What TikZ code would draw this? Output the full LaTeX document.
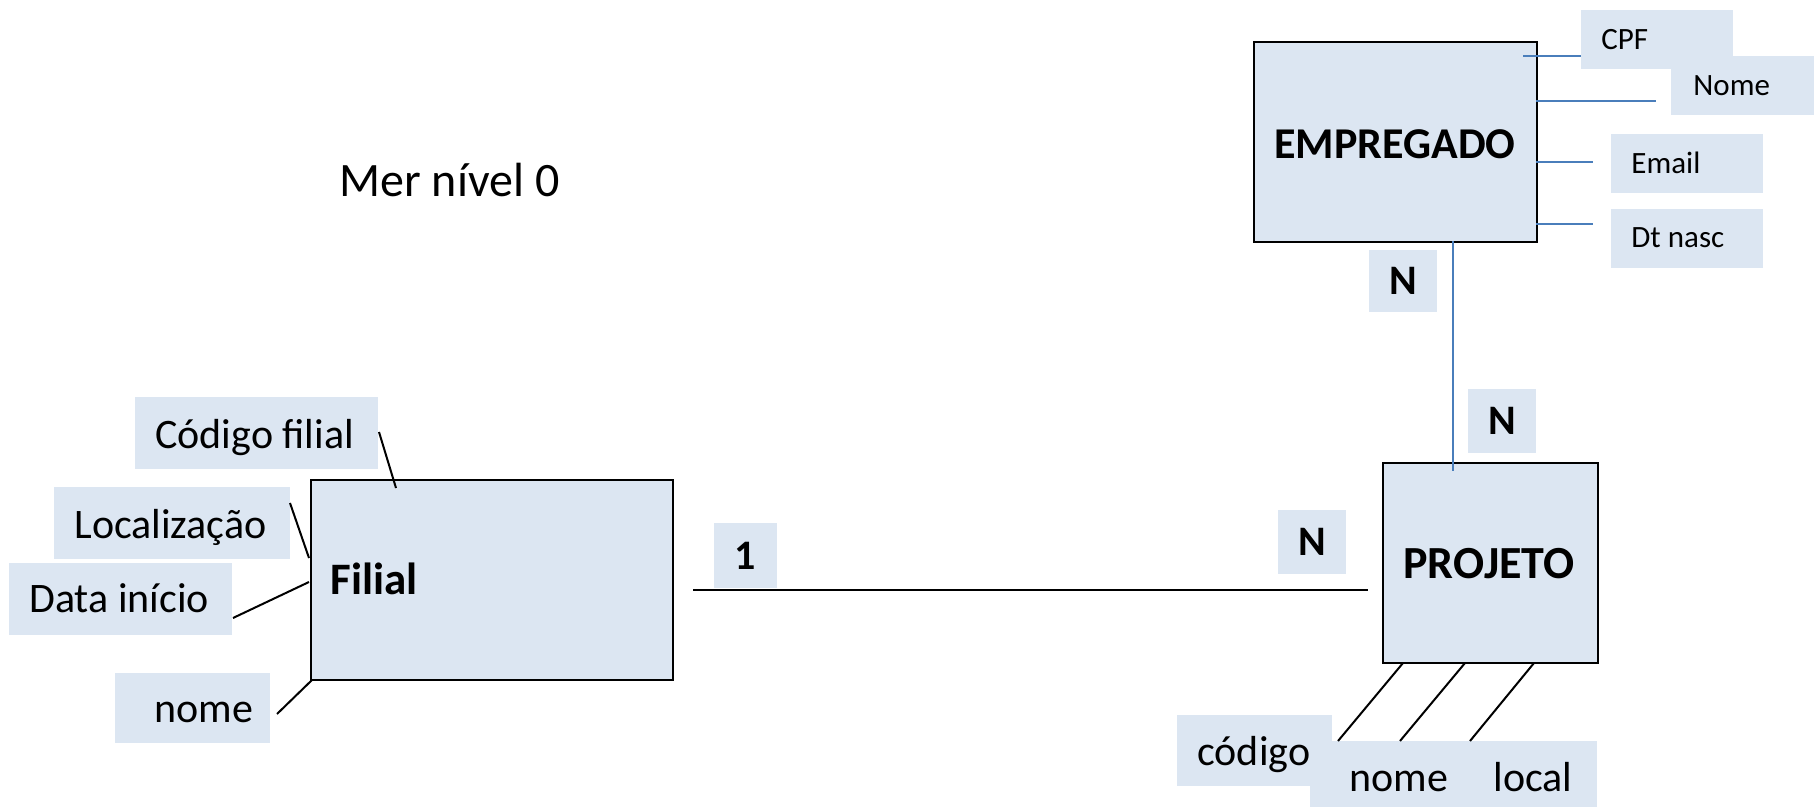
\documentclass[tikz,border=0pt]{standalone}
\usepackage{fontspec}
\setmainfont{Carlito}
\definecolor{boxfill}{HTML}{DCE6F2}
\definecolor{linkblue}{HTML}{4A7EBB}
\tikzset{
  entbox/.style={draw=black, line width=1pt, fill=boxfill},
  attbox/.style={fill=boxfill},
  txt/.style={inner sep=0pt, anchor=base west, font=\fontsize{21}{24}\selectfont},
  smalltxt/.style={inner sep=0pt, anchor=base west, font=\fontsize{15.5}{18}\selectfont},
  boldtxt/.style={inner sep=0pt, anchor=base west, font=\fontsize{22}{26}\selectfont\bfseries},
  cardtxt/.style={inner sep=0pt, font=\fontsize{21}{24}\selectfont\bfseries},
  blackline/.style={draw=black, line width=1pt},
  blueline/.style={draw=linkblue, line width=1pt},
}
\begin{document}
\begin{tikzpicture}[x=0.5pt,y=-0.5pt]
\useasboundingbox (0,0) rectangle (1814,807);
% title
\node[txt, font=\fontsize{24}{28}\selectfont] (title) at (339,197) {Mer nível 0};

% attribute boxes
\path[attbox] (135,397) rectangle (378,469); \node[txt] (tcodfil) at (155,448) {Código filial};
\path[attbox] (54,487) rectangle (290,559); \node[txt] (tloc) at (74,538) {Localização};
\path[attbox] (9,563) rectangle (232,635); \node[txt] (tdata) at (29,612) {Data início};
\path[attbox] (115,673) rectangle (270,743); \node[txt] (tnomef) at (154,722) {nome};

\path[attbox] (1581,10) rectangle (1733,69); \node[smalltxt] (tcpf) at (1601,50) {CPF};
\path[attbox] (1671,56) rectangle (1814,115); \node[smalltxt] (tnome) at (1693,96) {Nome};
\path[attbox] (1611,134) rectangle (1763,193); \node[smalltxt] (temail) at (1631,174) {Email};
\path[attbox] (1611,209) rectangle (1763,268); \node[smalltxt] (tdt) at (1631,248) {Dt nasc};

\path[attbox] (1177,715) rectangle (1332,786); \node[txt] (tcod) at (1197,765) {código};
\path[attbox] (1310,741) rectangle (1597,807);
\node[txt] (tnomep) at (1349,791) {nome};
\node[txt] (tlocal) at (1493,791) {local};

% cardinality boxes
\path[attbox] (714,523) rectangle (777,588); \node[cardtxt] (c1) at (745.5,556) {1};
\path[attbox] (1278,510) rectangle (1346,574); \node[cardtxt] (cn3) at (1312,542) {N};
\path[attbox] (1369,250) rectangle (1437,312); \node[cardtxt] (cn1) at (1403,281) {N};
\path[attbox] (1468,389) rectangle (1536,453); \node[cardtxt] (cn2) at (1502,421) {N};

% entities
\node[entbox, minimum width=181pt, minimum height=100pt, inner sep=0pt, anchor=north west] (filial) at (310,479) {};
\node[boldtxt, font=\fontsize{22.5}{26}\selectfont\bfseries] (tfilial) at (330,594) {Filial};
\node[entbox, minimum width=141.5pt, minimum height=100pt, inner sep=0pt, anchor=north west] (emp) at (1253,41) {};
\node[boldtxt] (temp) at (1274,159) {EMPREGADO};
\node[entbox, minimum width=107.5pt, minimum height=100pt, inner sep=0pt, anchor=north west] (proj) at (1382,462) {};
\node[boldtxt, font=\fontsize{23}{26}\selectfont\bfseries] (tproj) at (1403,578) {PROJETO};

% connector end points
\coordinate (a1) at (379,432); \coordinate (b1) at (396,488);
\coordinate (a2) at (290,503); \coordinate (b2) at (309,558);
\coordinate (a3) at (233,618); \coordinate (b3) at (309,582);
\coordinate (a4) at (277,714); \coordinate (b4) at (312,680);
\coordinate (r1) at (693,590); \coordinate (r2) at (1368,590);
\coordinate (v1) at (1453,241); \coordinate (v2) at (1453,471);
\coordinate (e1a) at (1523,56); \coordinate (e1b) at (1581,56);
\coordinate (e2a) at (1536,101); \coordinate (e2b) at (1656,101);
\coordinate (e3a) at (1536,162); \coordinate (e3b) at (1593,162);
\coordinate (e4a) at (1536,224); \coordinate (e4b) at (1593,224);
\coordinate (p1a) at (1403,663); \coordinate (p1b) at (1338,741);
\coordinate (p2a) at (1465,663); \coordinate (p2b) at (1400,741);
\coordinate (p3a) at (1534,663); \coordinate (p3b) at (1470,741);

\draw[blackline] (a1) -- (b1);
\draw[blackline] (a2) -- (b2);
\draw[blackline] (a3) -- (b3);
\draw[blackline] (a4) -- (b4);
\draw[blackline] (r1) -- (r2);
\draw[blueline] (v1) -- (v2);
\draw[blueline] (e1a) -- (e1b);
\draw[blueline] (e2a) -- (e2b);
\draw[blueline] (e3a) -- (e3b);
\draw[blueline] (e4a) -- (e4b);
\draw[blackline] (p1a) -- (p1b);
\draw[blackline] (p2a) -- (p2b);
\draw[blackline] (p3a) -- (p3b);
\end{tikzpicture}
\end{document}
